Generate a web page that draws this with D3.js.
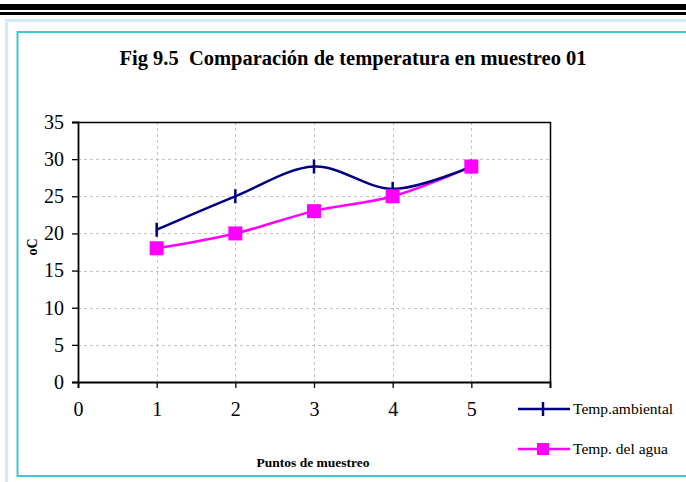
<!DOCTYPE html>
<html>
<head>
<meta charset="utf-8">
<script src="https://cdn.jsdelivr.net/npm/d3@7"></script>
<style>
  html, body { margin: 0; padding: 0; background: #fff; }
  svg { display: block; }
</style>
</head>
<body>
<svg id="chart" width="686" height="482"></svg>
<script>
// Sampling points and measured temperatures (°C)
const puntos = [1, 2, 3, 4, 5];
const tempAmbiental = [20.5, 25, 29, 26, 29];
const tempAgua = [18, 20, 23, 25, 29];
const yTicks = [0, 5, 10, 15, 20, 25, 30, 35];
const xTicks = [0, 1, 2, 3, 4, 5, 6];
const xTickLabels = ["0", "1", "2", "3", "4", "5", ""];
const seriesNames = ["Temp.ambiental", "Temp. del agua"];

const serif = "'Liberation Serif', 'Times New Roman', serif";
const svg = d3.select("#chart");

// Page decoration: heavy rules at the top and the light frame around the figure
svg.append("rect").attr("x", 0).attr("y", 4).attr("width", 686).attr("height", 6).attr("fill", "#000");
svg.append("rect").attr("x", 0).attr("y", 12).attr("width", 686).attr("height", 3).attr("fill", "#000");
svg.append("rect").attr("x", 6.5).attr("y", 20.5).attr("width", 700).attr("height", 480)
  .attr("fill", "none").attr("stroke", "#d3ecfb").attr("stroke-width", 3);
svg.append("rect").attr("x", 17.5).attr("y", 32).attr("width", 700).attr("height", 444)
  .attr("fill", "none").attr("stroke", "#3cc8cc").attr("stroke-width", 2);

// Plot area
const plot = { left: 78, right: 550, top: 122, bottom: 382 };
const x = d3.scaleLinear().domain([0, 6]).range([plot.left, plot.right]);
const y = d3.scaleLinear().domain([0, 35]).range([plot.bottom, plot.top]);

// Gridlines
const grid = svg.append("g").attr("stroke", "#c4c4c4").attr("stroke-dasharray", "3,3").attr("stroke-width", 1);
yTicks.filter(v => v > 0 && v < 35).forEach(v => {
  grid.append("line").attr("x1", plot.left).attr("x2", plot.right)
    .attr("y1", Math.round(y(v)) + 0.5).attr("y2", Math.round(y(v)) + 0.5);
});
xTicks.filter(v => v > 0 && v < 6).forEach(v => {
  grid.append("line").attr("y1", plot.top).attr("y2", plot.bottom)
    .attr("x1", Math.round(x(v)) + 0.5).attr("x2", Math.round(x(v)) + 0.5);
});

// Frame on top and right
svg.append("path")
  .attr("d", `M${plot.left},${plot.top + 0.5}H${plot.right + 0.5}V${plot.bottom}`)
  .attr("fill", "none").attr("stroke", "#000").attr("stroke-width", 1.5);

// Axes
const yAxis = svg.append("g").attr("transform", `translate(${plot.left},0)`)
  .call(d3.axisLeft(y).tickValues(yTicks).tickSize(6).tickPadding(8));
const xAxis = svg.append("g").attr("transform", `translate(0,${plot.bottom})`)
  .call(d3.axisBottom(x).tickValues(xTicks).tickSize(6).tickPadding(14)
    .tickFormat((d, i) => xTickLabels[i]));
[yAxis, xAxis].forEach(a => {
  a.select(".domain").attr("stroke", "#000").attr("stroke-width", 1.8);
  a.selectAll(".tick line").attr("stroke", "#000").attr("stroke-width", 1.3);
  a.selectAll("text").attr("font-family", serif).attr("font-size", 20).attr("fill", "#000");
});
xAxis.selectAll(".tick line").attr("y1", 0);

// Series lines (smoothed)
const line = d3.line()
  .x((d, i) => x(puntos[i]))
  .y(d => y(d))
  .curve(d3.curveCardinal.tension(0));

svg.append("path").datum(tempAgua).attr("d", line)
  .attr("fill", "none").attr("stroke", "#ff00ff").attr("stroke-width", 2.5);
svg.append("path").datum(tempAmbiental).attr("d", line)
  .attr("fill", "none").attr("stroke", "#000080").attr("stroke-width", 2.5);

// Markers: vertical dashes for air temperature, squares for water
svg.append("g").selectAll("line").data(tempAmbiental).join("line")
  .attr("x1", (d, i) => x(puntos[i])).attr("x2", (d, i) => x(puntos[i]))
  .attr("y1", d => y(d) - 7).attr("y2", d => y(d) + 7)
  .attr("stroke", "#000080").attr("stroke-width", 2.5);
const sq = 14;
svg.append("g").selectAll("rect").data(tempAgua).join("rect")
  .attr("x", (d, i) => x(puntos[i]) - sq / 2).attr("y", d => y(d) - sq / 2)
  .attr("width", sq).attr("height", sq).attr("fill", "#ff00ff");

// Title and axis titles
svg.append("text").attr("x", 353).attr("y", 65).attr("text-anchor", "middle")
  .attr("font-family", serif).attr("font-weight", "bold").attr("font-size", 20.5)
  .attr("xml:space", "preserve")
  .text("Fig 9.5  Comparación de temperatura en muestreo 01");
svg.append("text").attr("transform", "translate(37,247) rotate(-90)").attr("text-anchor", "middle")
  .attr("font-family", serif).attr("font-weight", "bold").attr("font-size", 14)
  .text("oC");
svg.append("text").attr("x", 313).attr("y", 467).attr("text-anchor", "middle")
  .attr("font-family", serif).attr("font-weight", "bold").attr("font-size", 13.5)
  .text("Puntos de muestreo");

// Legend
const legend = svg.append("g").attr("font-family", serif).attr("font-size", 15.5);
const legY = [409, 449];
legend.append("line").attr("x1", 518).attr("x2", 570).attr("y1", legY[0]).attr("y2", legY[0])
  .attr("stroke", "#000080").attr("stroke-width", 2.5);
legend.append("line").attr("x1", 543).attr("x2", 543).attr("y1", legY[0] - 7).attr("y2", legY[0] + 7)
  .attr("stroke", "#000080").attr("stroke-width", 2.5);
legend.append("line").attr("x1", 518).attr("x2", 570).attr("y1", legY[1]).attr("y2", legY[1])
  .attr("stroke", "#ff00ff").attr("stroke-width", 2.5);
legend.append("rect").attr("x", 543 - 6).attr("y", legY[1] - 6).attr("width", 12).attr("height", 12)
  .attr("fill", "#ff00ff");
seriesNames.forEach((name, i) => {
  legend.append("text").attr("x", 573).attr("y", legY[i]).attr("dy", "0.35em").text(name);
});
</script>
</body>
</html>
